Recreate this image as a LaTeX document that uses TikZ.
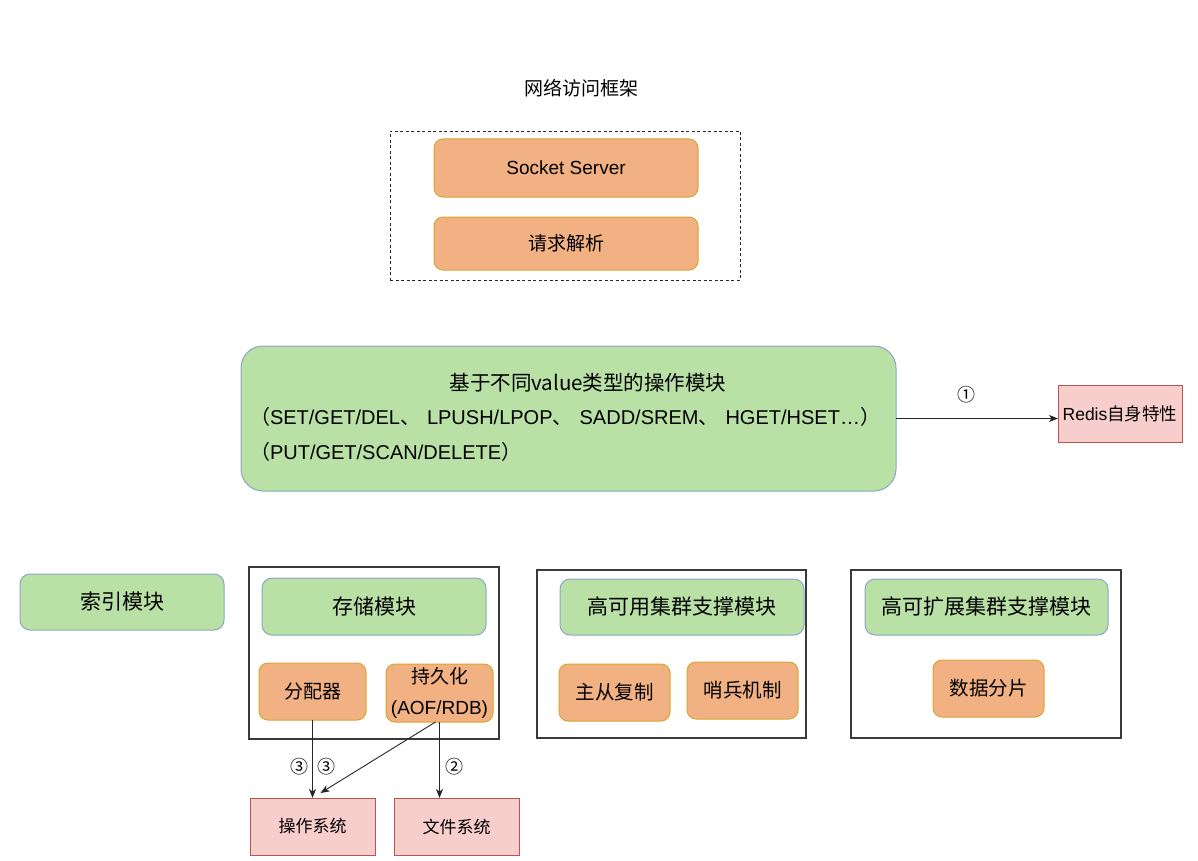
\documentclass[tikz,border=0pt]{standalone}
\usepackage{fontspec}
\setmainfont{Liberation Sans}
\newfontfamily\cjk{Noto Sans CJK SC}
\usetikzlibrary{arrows.meta}
\definecolor{orfill}{HTML}{F2B183}
\definecolor{ordraw}{HTML}{D9A530}
\definecolor{grfill}{HTML}{B9E0A5}
\definecolor{grdraw}{HTML}{8DA6C6}
\definecolor{pkfill}{HTML}{F8CECC}
\definecolor{pkdraw}{HTML}{B85450}
\definecolor{framec}{HTML}{3A3A3A}
\newcommand{\fsz}[1]{\fontsize{#1}{#1}\selectfont}
\newcommand{\cpunct}[1]{{\cjk\fsz{20}#1}}
\newcommand{\dunhao}{\cpunct{、}\hspace{7pt}}
\begin{document}
\begin{tikzpicture}[x=1pt,y=-1pt,
  base/.style={inner sep=0pt, outer sep=0pt, align=center, text=black},
  orbox/.style={base, draw=ordraw, fill=orfill, line width=1pt, rounded corners=9pt},
  grbox/.style={base, draw=grdraw, fill=grfill, line width=1pt, rounded corners=10pt},
  pkbox/.style={base, draw=pkdraw, fill=pkfill, line width=1pt},
  frame/.style={base, draw=framec, line width=1.2pt},
  dframe/.style={base, draw=black!85, line width=0.9pt, dash pattern=on 3pt off 2.5pt},
  arr/.style={-{Stealth[length=9pt,width=7pt,inset=2.5pt]}, line width=0.9pt, draw=black!85}]
\useasboundingbox (0,0) rectangle (1198,861);
\fill[white] (0,0) rectangle (1198,861);

% network access framework
\node[base, font=\cjk\fsz{19}] (title) at (581,88) {网络访问框架};
\node[dframe, minimum width=350pt, minimum height=149pt] (netframe) at (565,205.5) {};
\node[orbox, minimum width=264pt, minimum height=58pt, font=\fsz{19}] (sock) at (566,168) {Socket Server};
\node[orbox, minimum width=264pt, minimum height=53pt, font=\cjk\fsz{19}] (parse) at (566,243.5) {请求解析};

% operation module
\node[grbox, rounded corners=22pt, minimum width=655pt, minimum height=145pt] (ops) at (568.5,418.5) {};
\node[base, font=\cjk\fsz{20.5}] (opsA) at (588,383) {基于不同value类型的操作模块};
\node[base, anchor=west, font=\fsz{20}] (opsB) at (250,417) {\cpunct{（}SET/GET/DEL\dunhao LPUSH/LPOP\dunhao SADD/SREM\dunhao HGET/HSET…\cpunct{）}};
\node[base, anchor=west, font=\fsz{20}] (opsC) at (250,452) {\cpunct{（}PUT/GET/SCAN/DELETE\cpunct{）}};

\node[pkbox, minimum width=124pt, minimum height=57pt, font=\fsz{17.5}] (redis) at (1120,413.5) {Redis{\cjk 自身特性}};
\draw[arr] (ops.east) -- (ops.east -| redis.west);
\node[base, font=\cjk\fsz{18}] (c1) at (966,395) {①};

% index module
\node[grbox, minimum width=204pt, minimum height=56pt, font=\cjk\fsz{21}] (index) at (122,602) {索引模块};

% storage
\node[frame, minimum width=250pt, minimum height=172pt] (storeframe) at (374,653) {};
\node[grbox, minimum width=224pt, minimum height=57pt, font=\cjk\fsz{21}] (storage) at (374,606.5) {存储模块};
\node[orbox, minimum width=107pt, minimum height=57pt, font=\cjk\fsz{19}] (alloc) at (312.5,691.5) {分配器};
\node[orbox, minimum width=107pt, minimum height=58pt, font=\fontsize{19}{31}\selectfont] (persist) at (439.5,693) {{\cjk 持久化}\\(AOF/RDB)};

\node[pkbox, minimum width=125pt, minimum height=57pt, font=\cjk\fsz{17}] (os) at (312.5,826.5) {操作系统};
\node[pkbox, minimum width=125pt, minimum height=57pt, font=\cjk\fsz{17}] (fs) at (456.5,826.5) {文件系统};

\draw[arr] (alloc.south) -- (os.north);
\draw[arr] ([xshift=-4pt]persist.south) -- ([xshift=8pt,yshift=5pt]os.north);
\draw[arr] (persist.south) -- (persist.south |- fs.north);
\node[base, font=\cjk\fsz{18}] (c3a) at (299,767) {③};
\node[base, font=\cjk\fsz{18}] (c3b) at (326,767) {③};
\node[base, font=\cjk\fsz{18}] (c2) at (454,767) {②};

% high availability
\node[frame, minimum width=269pt, minimum height=168pt] (haframe) at (671.5,654) {};
\node[grbox, minimum width=244pt, minimum height=56pt, font=\cjk\fsz{21}] (ha) at (682,607) {高可用集群支撑模块};
\node[orbox, minimum width=111pt, minimum height=57pt, font=\cjk\fsz{19.5}] (master) at (614.5,692.5) {主从复制};
\node[orbox, minimum width=111pt, minimum height=57pt, font=\cjk\fsz{19.5}] (sentinel) at (742.5,690.5) {哨兵机制};

% scalability
\node[frame, minimum width=270pt, minimum height=168pt] (scframe) at (986,654) {};
\node[grbox, minimum width=243pt, minimum height=56pt, font=\cjk\fsz{21}] (scale) at (986.5,607) {高可扩展集群支撑模块};
\node[orbox, minimum width=111pt, minimum height=57pt, font=\cjk\fsz{19.5}] (shard) at (988.5,688.5) {数据分片};
\end{tikzpicture}
\end{document}
